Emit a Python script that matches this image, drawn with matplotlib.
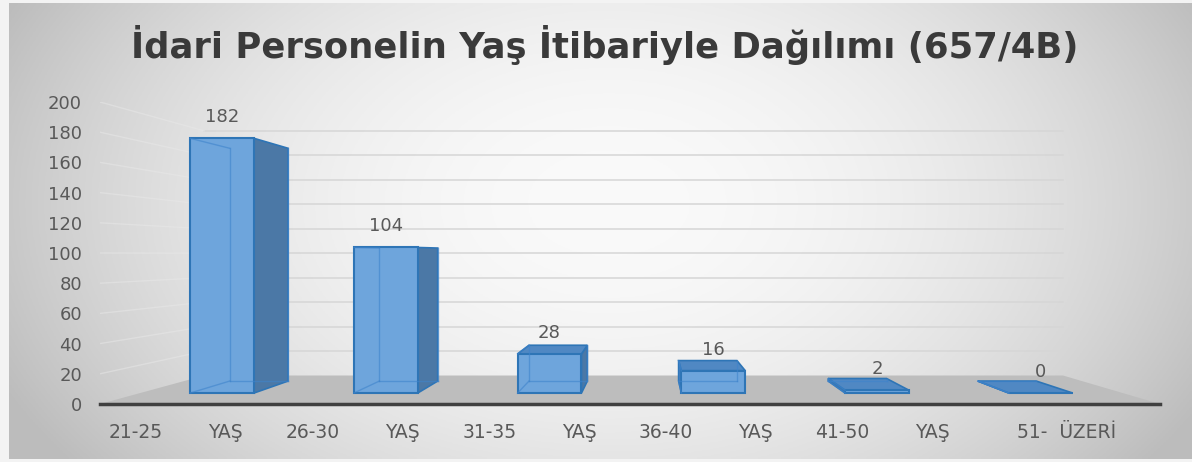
import numpy as np
import matplotlib.pyplot as plt
from matplotlib.patches import Polygon

# data
categories = ['21-25 YAŞ', '26-30 YAŞ', '31-35 YAŞ', '36-40 YAŞ', '41-50 YAŞ', '51- ÜZERİ']
values = [182, 104, 28, 16, 2, 0]
yticks = [0, 20, 40, 60, 80, 100, 120, 140, 160, 180, 200]
title = 'İdari Personelin Yaş İtibariyle Dağılımı (657/4B)'

plt.rcParams['font.family'] = ['DejaVu Sans']

W, H = 1192, 462
fig = plt.figure(figsize=(W / 100, H / 100), dpi=100, facecolor='#F3F3F3')

# background gradient
bg = fig.add_axes([9 / W, (H - 459) / H, (W - 9) / W, (459 - 3) / H], zorder=0)
gx, gy = np.meshgrid(np.linspace(0, W - 9, 400), np.linspace(0, 456, 160))
d = np.sqrt(((gx - 600) / 640) ** 2 + ((gy - 200) / 420) ** 2)
shade = np.clip(0.98 - 0.22 * d ** 2, 0.74, 1.0)
bg.imshow(np.dstack([shade] * 3), aspect='auto', extent=(0, 1, 0, 1), origin='upper')
bg.axis('off')

fig.text(605 / W, 1 - 45 / H, title, ha='center', va='center', fontsize=25.5,
         fontweight='bold', color='#3A3A3A')

ax = fig.add_axes([100 / W, (H - 404) / H, 1060 / W, 302 / H], zorder=1)
ax.patch.set_alpha(0)
ax.set_xlim(-0.5, len(values) - 0.5)
ax.set_ylim(0, 200)
for s in ['top', 'right', 'left']:
    ax.spines[s].set_visible(False)
ax.spines['bottom'].set_color('#404040')
ax.spines['bottom'].set_linewidth(2.5)
ax.set_xticks([])
ax.set_yticks(yticks)
ax.tick_params(axis='y', length=0, pad=13, labelsize=13, labelcolor='#595959')

# simple perspective: vanishing point + depth scale factors
VP = (2.61, 99.3)
s_wall, s_front, s_back = 0.81, 0.927, 0.847
hw = 0.195


def proj(x, y, s):
    return (VP[0] + (x - VP[0]) * s, VP[1] + (y - VP[1]) * s)


x0, x1 = -0.5, len(values) - 0.5
# floor
floor = [proj(x0, 0, 1), proj(x1, 0, 1), proj(x1, 0, s_wall), proj(x0, 0, s_wall)]
ax.add_patch(Polygon(floor, closed=True, facecolor='#BDBDBD', edgecolor='none', zorder=1))

# gridlines on back and side walls
for v in yticks[1:]:
    a, b = proj(x0, v, s_wall), proj(x1, v, s_wall)
    ax.plot([a[0], b[0]], [a[1], b[1]], color='#D6D6D6', lw=1.1, zorder=0.5)
    c = proj(x0, v, 1)
    ax.plot([c[0], a[0]], [c[1], a[1]], color='#E8E8E8', lw=1.0, alpha=0.5, zorder=0.5)

front_c, side_c, top_c, edge_c = '#6EA5DC', '#4B78A6', '#5088C3', '#2E75B6'
for i, v in enumerate(values):
    xl, xr = i - hw, i + hw
    P = proj
    faces = []
    if xr < VP[0]:
        faces.append(([P(xr, 0, s_front), P(xr, 0, s_back), P(xr, v, s_back), P(xr, v, s_front)], side_c))
    if xl > VP[0]:
        faces.append(([P(xl, 0, s_front), P(xl, 0, s_back), P(xl, v, s_back), P(xl, v, s_front)], side_c))
    if v < VP[1]:
        faces.append(([P(xl, v, s_front), P(xr, v, s_front), P(xr, v, s_back), P(xl, v, s_back)], top_c))
    for pts, col in faces:
        ax.add_patch(Polygon(pts, closed=True, facecolor=col, edgecolor=edge_c, lw=1.2, zorder=3))
    front = [P(xl, 0, s_front), P(xr, 0, s_front), P(xr, v, s_front), P(xl, v, s_front)]
    ax.add_patch(Polygon(front, closed=True, facecolor=front_c, edgecolor=edge_c, lw=1.5, zorder=4))
    # see-through back edges
    hidden = [
        (P(xl, 0, s_back), P(xr, 0, s_back)),
        (P(xl, 0, s_back), P(xl, v, s_back)),
        (P(xl, 0, s_front), P(xl, 0, s_back)),
        (P(xl, v, s_front), P(xl, v, s_back)),
        (P(xr, 0, s_back), P(xr, v, s_back)),
    ]
    for a, b in hidden:
        ax.plot([a[0], b[0]], [a[1], b[1]], color='#3F84CC', lw=1.0, alpha=0.6, zorder=5)
    lx, _ = proj(i, 0, s_front)
    _, ly = proj(i, v + 15, s_front)
    ax.text(lx, ly, str(v), ha='center', va='center', fontsize=13, color='#595959', zorder=6)

# category labels
for i, lab in enumerate(categories):
    if lab.endswith('YAŞ'):
        left, right = lab.rsplit(' ', 1)
        ax.text(i - 0.45, -19.2, left, ha='left', va='center', fontsize=13.5,
                color='#595959', clip_on=False)
        ax.text(i + 0.31, -19.2, right, ha='right', va='center', fontsize=13.5,
                color='#595959', clip_on=False)
    else:
        ax.text(i - 0.03, -19.2, lab.replace(' ', '  '), ha='center', va='center',
                fontsize=13.5, color='#595959', clip_on=False)

fig.savefig('out.png', dpi=100, facecolor=fig.get_facecolor())
